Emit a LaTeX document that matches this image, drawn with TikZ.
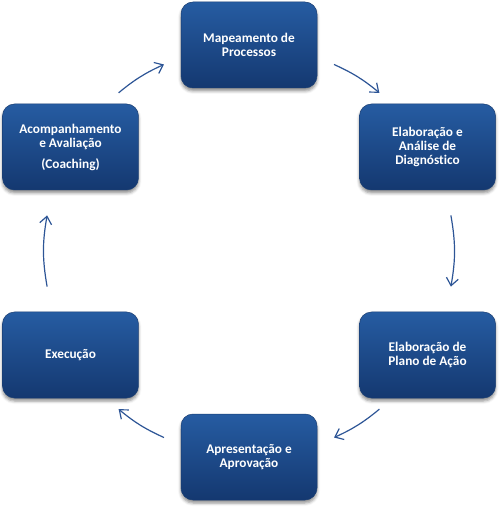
\documentclass[tikz,border=0pt]{standalone}
\usepackage{fontspec}
\setmainfont[Ligatures=NoCommon]{Carlito}
\usepackage{xcolor}
\usepackage{tikz}
\definecolor{boxtop}{RGB}{38, 92, 162}
\definecolor{boxbottom}{RGB}{20, 56, 112}
\definecolor{boxedge}{RGB}{26, 62, 115}
\definecolor{arrowblue}{RGB}{45, 85, 150}
\usetikzlibrary{arrows.meta,shadows.blur}

\begin{document}
\begin{tikzpicture}[
    x=1pt, y=1pt,
    stage/.style={
        rectangle,
        rounded corners=12pt,
        minimum width=136pt,
        minimum height=86pt,
        align=center,
        font=\fontsize{13.3pt}{14pt}\selectfont\bfseries,
        text=white,
        top color=boxtop,
        bottom color=boxbottom,
        draw=boxedge,
        line width=0.5pt,
        blur shadow={shadow xshift=0pt, shadow yshift=-3pt, shadow blur radius=3pt, shadow opacity=45}
    },
    cyclearrow/.style={-{Straight Barb[length=7.5pt,width=12pt]},line width=1.2pt,arrowblue}
]
    \useasboundingbox (-249,-257) rectangle (249,251);

    % Stages of the cycle
    \node[stage] (mapeamento) at (0,206) {Mapeamento de\\Processos};
    \node[stage] (diagnostico) at (178.5,104) {Elaboração e\\Análise de\\Diagnóstico};
    \node[stage] (plano) at (178.5,-104) {Elaboração de\\Plano de Ação};
    \node[stage] (aprovacao) at (0,-206) {Apresentação e\\Aprovação};
    \node[stage] (execucao) at (-178.5,-104) {Execução};
    \node[stage] (acompanhamento) at (-178.5,104) {Acompanhamento\\e Avaliação\\[7pt](Coaching)};

    % Arrow ends on the ring
    \coordinate (acompanhamento-out) at (129.5:205);
    \coordinate (mapeamento-in) at (114.5:205);
    \coordinate (mapeamento-out) at (65.5:205);
    \coordinate (diagnostico-in) at (50.5:205);
    \coordinate (diagnostico-out) at (10:205);
    \coordinate (plano-in) at (-10:205);
    \coordinate (plano-out) at (-50.5:205);
    \coordinate (aprovacao-in) at (-65.5:205);
    \coordinate (aprovacao-out) at (-114.5:205);
    \coordinate (execucao-in) at (-129.5:205);
    \coordinate (execucao-out) at (190:205);
    \coordinate (acompanhamento-in) at (170:205);

    % Arrows
    \draw[cyclearrow] (acompanhamento-out) to[bend left=7.5] (mapeamento-in);
    \draw[cyclearrow] (mapeamento-out) to[bend left=7.5] (diagnostico-in);
    \draw[cyclearrow] (diagnostico-out) to[bend left=10] (plano-in);
    \draw[cyclearrow] (plano-out) to[bend left=7.5] (aprovacao-in);
    \draw[cyclearrow] (aprovacao-out) to[bend left=7.5] (execucao-in);
    \draw[cyclearrow] (execucao-out) to[bend left=10] (acompanhamento-in);
\end{tikzpicture}
\end{document}
